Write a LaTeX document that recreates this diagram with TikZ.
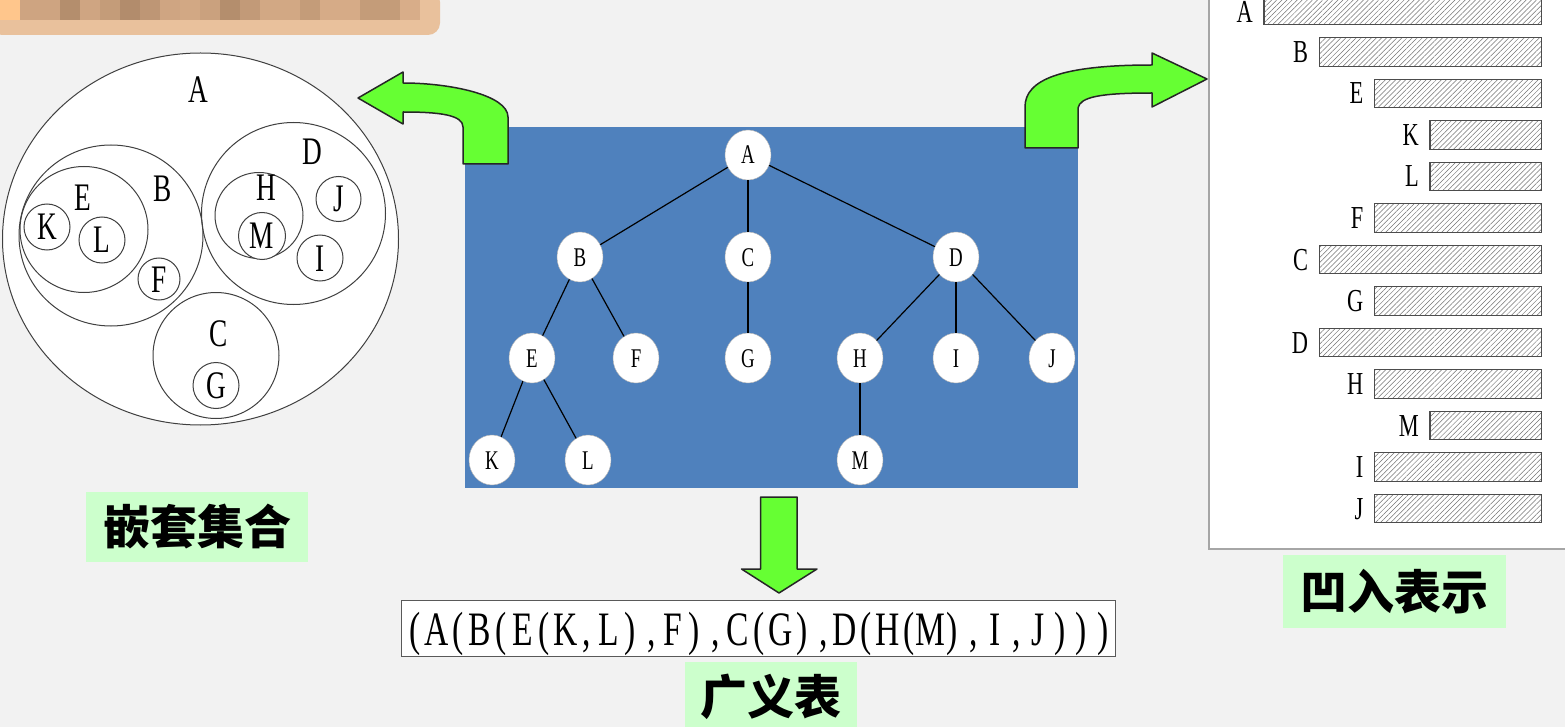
\documentclass[tikz,border=0pt]{standalone}
\usepackage{fontspec}
\usetikzlibrary{shapes.geometric,patterns.meta}
\newfontfamily\narrowserif[FakeStretch=0.7]{Liberation Serif}
\newfontfamily\cjk{Noto Sans CJK SC}
\definecolor{pagegray}{RGB}{242,242,242}
\definecolor{treeblue}{RGB}{79,129,189}
\definecolor{arrowgreen}{RGB}{102,255,51}
\definecolor{taggreen}{RGB}{204,255,204}
\definecolor{tandark}{RGB}{176,138,106}
\definecolor{tanlight}{RGB}{216,173,137}
\definecolor{tanband}{RGB}{233,193,156}
% one fixed-width cell per character of the list
\newcommand\cellrow[1]{\cellstep#1\relax}
\def\cellstep#1{\ifx#1\relax\else\makebox[21.5pt]{#1}\expandafter\cellstep\fi}
\tikzset{
  tree node/.style={ellipse,fill=white,draw=gray!60,minimum width=46pt,minimum height=50pt,
    inner sep=0pt,text height=18pt,text depth=0pt,font=\narrowserif\fontsize{27}{27}\selectfont},
  tree edge/.style={draw=black,line width=1.2pt},
  set ring/.style={draw=black!75,line width=1pt},
  set label/.style={inner sep=0pt,text height=26pt,text depth=0pt,font=\narrowserif\fontsize{39}{39}\selectfont},
  set leaf/.style={set ring,set label,circle,fill=white},
  bar label/.style={anchor=east,inner sep=0pt,text height=21pt,text depth=0pt,font=\narrowserif\fontsize{32}{32}\selectfont},
  hatch bar/.style={draw=black!70,line width=1.2pt,preaction={fill=white},
    pattern={Lines[angle=45,distance=3.6pt,line width=0.5pt]},pattern color=black!55},
  green arrow/.style={fill=arrowgreen,draw=black!85,line width=1.5pt,line join=round},
  tag box/.style={fill=taggreen,inner sep=0pt,font=\cjk\bfseries\fontsize{47}{47}\selectfont}
}
\begin{document}
\begin{tikzpicture}[x=1pt,y=-1pt]
  \useasboundingbox[fill=pagegray] (0,0) rectangle (1565,727);

  % blurred strip at the top left
  \fill[tanband,rounded corners=12pt] (-10,-10) rectangle (440,35);
  \fill[orange!45!white] (0,-5) rectangle (20,20);
  \foreach \pct [count=\i from 1] in {75,75,10,78,50,5,35,78,85,65,10,45,85,85,50,95,95,50,50,100}
    \fill[tanlight!\pct!tandark] ({20*\i},-5) rectangle ({20*\i+20},20);

  % nested sets
  \draw[set ring,fill=white] (200.5,239) ellipse [x radius=198pt,y radius=186pt];
  \draw[set ring] (111,235.5) ellipse [x radius=92pt,y radius=90.5pt];
  \draw[set ring] (84,229.5) ellipse [x radius=64pt,y radius=63pt];
  \draw[set ring] (293.5,213.5) ellipse [x radius=92pt,y radius=91pt];
  \draw[set ring] (259,215.5) ellipse [x radius=44pt,y radius=43pt];
  \draw[set ring] (216,355.5) circle [radius=63pt];
  \node[set label] (setA) at (198,90) {A};
  \node[set label] (setB) at (163,189) {B};
  \node[set label] (setE) at (83,198) {E};
  \node[set label] (setD) at (312,152) {D};
  \node[set label] (setH) at (266,188) {H};
  \node[set label] (setC) at (219,333) {C};
  \node[set leaf,minimum size=46pt] (setK) at (47,227) {K};
  \node[set leaf,minimum size=46pt] (setL) at (102,240) {L};
  \node[set leaf,minimum size=42pt] (setF) at (159,279) {F};
  \node[set leaf,minimum size=47pt] (setM) at (262,236) {M};
  \node[set leaf,minimum size=45pt] (setJ) at (338.5,199) {J};
  \node[set leaf,minimum size=46pt] (setI) at (320,258) {I};
  \node[set leaf,minimum size=46pt] (setG) at (216,385.5) {G};

  % indented list
  \draw[fill=white,draw=gray!70,line width=2pt] (1209,-5) rectangle (1575,549);
  \foreach \lbl/\lvl [count=\r from 0] in {A/0,B/1,E/2,K/3,L/3,F/2,C/1,G/2,D/1,H/2,M/3,I/2,J/2}{
    \draw[hatch bar] ({1264+55.3*\lvl},{10.5+41.5*\r-14.3}) rectangle (1541.5,{10.5+41.5*\r+14.3});
    \node[bar label] (bar\lbl) at ({1264+55.3*\lvl-11},{max(12.5,10.5+41.5*\r)}) {\lbl};
  }

  % tree
  \fill[treeblue] (465,127) rectangle (1078,488);
  \node[tree node] (tA) at (748,155) {A};
  \node[tree node] (tB) at (580,257) {B};
  \node[tree node] (tC) at (748,257) {C};
  \node[tree node] (tD) at (956,257) {D};
  \node[tree node] (tE) at (532,358) {E};
  \node[tree node] (tF) at (636,358) {F};
  \node[tree node] (tG) at (748,358) {G};
  \node[tree node] (tH) at (860,358) {H};
  \node[tree node] (tI) at (956,358) {I};
  \node[tree node] (tJ) at (1052,358) {J};
  \node[tree node] (tK) at (492,460) {K};
  \node[tree node] (tL) at (588,460) {L};
  \node[tree node] (tM) at (860,460) {M};

  \path[tree edge]
    (tA) edge (tB)
    (tA) edge (tC)
    (tA) edge (tD)
    (tB) edge (tE)
    (tB) edge (tF)
    (tC) edge (tG)
    (tD) edge (tH)
    (tD) edge (tI)
    (tD) edge (tJ)
    (tE) edge (tK)
    (tE) edge (tL)
    (tH) edge (tM);

  % arrows
  \draw[green arrow] (358,98) -- (403,72) -- (403,83)
    .. controls (450,83) and (508,95) .. (508,117) -- (508,164) -- (463,164) -- (463,127)
    .. controls (463,115) and (440,112) .. (403,112) -- (403,124) -- cycle;
  \draw[green arrow] (1207,79) -- (1152,53) -- (1152,65)
    .. controls (1060,65) and (1025,80) .. (1025,107) -- (1025,148) -- (1078,148) -- (1078,108)
    .. controls (1080,97) and (1100,93) .. (1152,93) -- (1152,107) -- cycle;
  \draw[green arrow] (760.5,497) -- (797,497) -- (797,569) -- (817,569) -- (779,593)
    -- (741.5,569) -- (760.5,569) -- cycle;

  % generalized list
  \node[draw=black!65,line width=1.2pt,fill=white,minimum width=714pt,minimum height=56pt,inner sep=0pt,
    text height=33pt,text depth=0pt,font=\narrowserif\fontsize{48}{48}\selectfont]
    (glist) at (758.8,628.7) {\cellrow{(A(B(E(K,L),F),C(G),D(H(M),I,J)))}};

  % captions
  \node[tag box,minimum width=222pt,minimum height=70pt] (capSet) at (197,527) {嵌套集合};
  \node[tag box,minimum width=172pt,minimum height=70pt] (capList) at (771,697) {广义表};
  \node[tag box,minimum width=223pt,minimum height=73pt] (capIndent) at (1394.5,591.5) {凹入表示};
\end{tikzpicture}
\end{document}
